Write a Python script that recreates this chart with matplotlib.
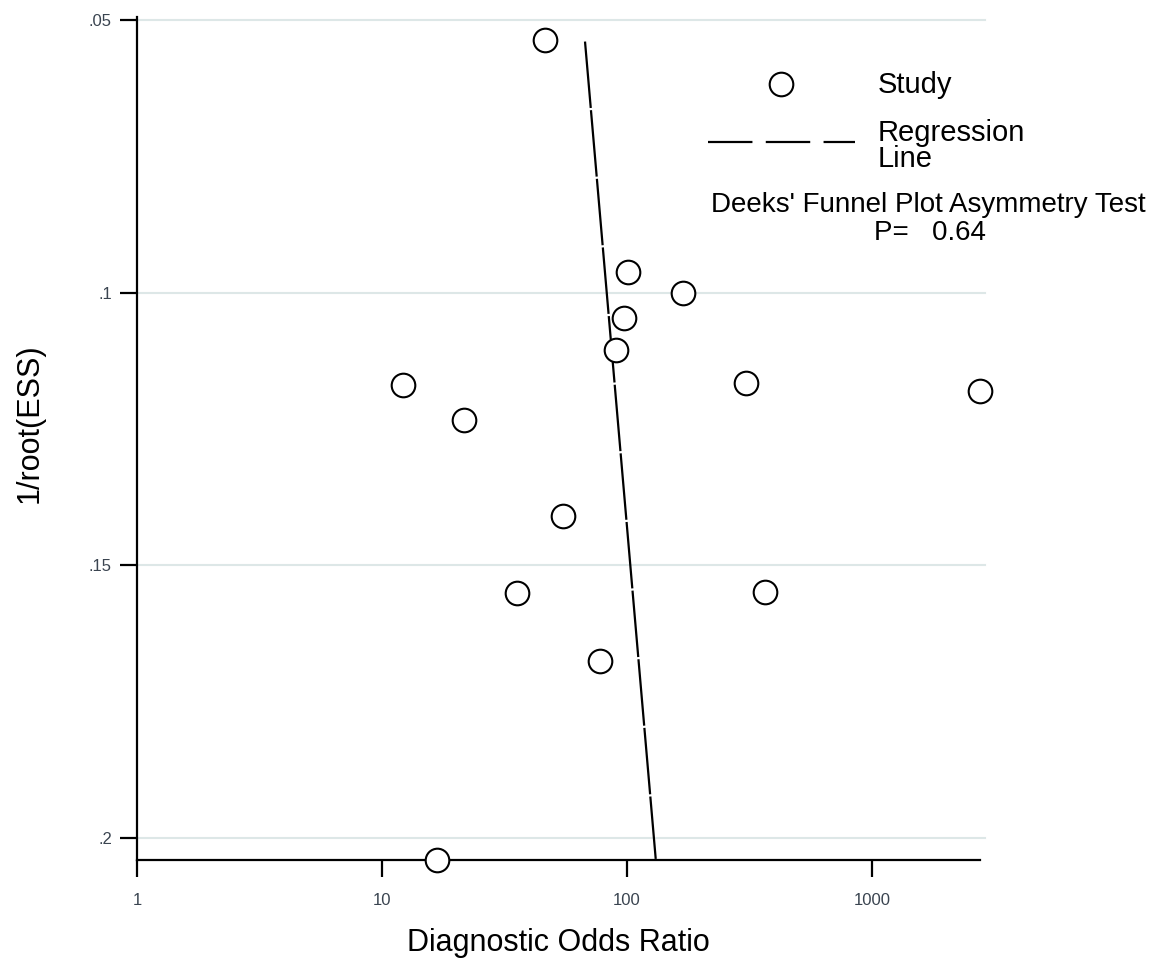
import matplotlib.pyplot as plt
from matplotlib.lines import Line2D
import numpy as np

plt.rcParams['font.family'] = ['Liberation Sans', 'DejaVu Sans']

# study estimates
dor = [46.3, 101, 169, 97.2, 90.2, 12.2, 306, 2760, 21.6, 54.8, 35.6, 366, 77.6, 16.8]
inv_root_ess = [0.0538, 0.0962, 0.100, 0.1046, 0.1106, 0.117, 0.1165, 0.118,
                0.1233, 0.141, 0.155, 0.1548, 0.1676, 0.204]

# regression line end points
reg_x = [67.4, 131]
reg_y = [0.054, 0.2038]

x_ticks = [1, 10, 100, 1000]
x_tick_labels = ['1', '10', '100', '1000']
y_ticks = [0.05, 0.1, 0.15, 0.2]
y_tick_labels = ['.05', '.1', '.15', '.2']

fig = plt.figure(figsize=(11.7, 9.65), dpi=100)
ax = fig.add_axes([137 / 1170, 1 - 860 / 965, (980 - 137) / 1170, (860 - 17) / 965])

ax.set_xscale('log')
ax.set_xlim(1, 2760)
ax.set_ylim(0.204, 0.0495)

for yt in y_ticks:
    ax.axhline(yt, color='#dde7e7', lw=1.5, zorder=0, xmax=1.006, clip_on=False)

ax.plot(reg_x, reg_y, color='black', lw=1.6, dashes=(30, 1), zorder=2)
ax.plot(dor, inv_root_ess, 'o', ms=17, mfc='white', mec='black', mew=1.5,
        clip_on=False, zorder=3)

for side in ['top', 'right']:
    ax.spines[side].set_visible(False)
for side in ['left', 'bottom']:
    ax.spines[side].set_linewidth(1.6)

ax.set_xticks(x_ticks)
ax.set_xticklabels(x_tick_labels)
ax.xaxis.set_minor_locator(plt.NullLocator())
ax.set_yticks(y_ticks)
ax.set_yticklabels(y_tick_labels)
ax.tick_params(axis='both', direction='out', length=12, width=1.6,
               labelsize=12, labelcolor='#3a4450')
ax.tick_params(axis='x', pad=12)
ax.tick_params(axis='y', pad=6)

ax.set_xlabel('Diagnostic Odds Ratio', fontsize=22, labelpad=14)
ax.set_ylabel('1/root(ESS)', fontsize=22)
ax.yaxis.set_label_coords(-0.110, 0.518)

# legend and test text
fig.add_artist(Line2D([781 / 1170], [1 - 84 / 965], marker='o', ms=17, mfc='white',
                      mec='black', mew=1.5, transform=fig.transFigure))
fig.text(878 / 1170, 1 - 85 / 965, 'Study', fontsize=21, va='center')
fig.add_artist(Line2D([708 / 1170, 855 / 1170], [1 - 142 / 965, 1 - 142 / 965],
                      color='black', lw=1.6, dashes=(20, 6), transform=fig.transFigure))
fig.text(878 / 1170, 1 - 146 / 965, 'Regression\nLine', fontsize=21, va='center',
         linespacing=0.95)
fig.text(928 / 1170, 1 - 205 / 965, "Deeks' Funnel Plot Asymmetry Test", fontsize=20,
         ha='center', va='center')
fig.text(930 / 1170, 1 - 233 / 965, 'P=   0.64', fontsize=20, ha='center', va='center')

fig.savefig('out.png', dpi=100)
